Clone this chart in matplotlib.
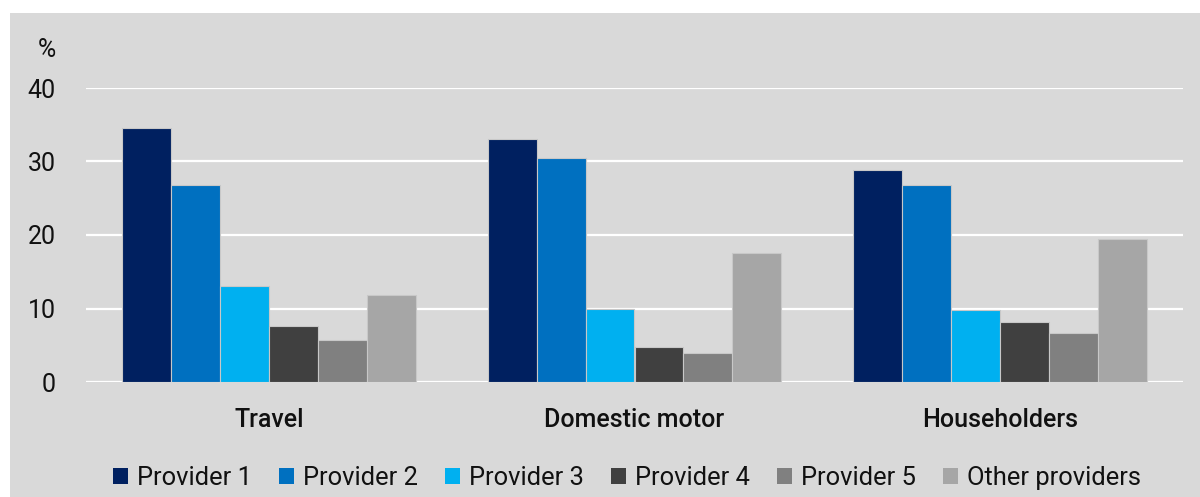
import numpy as np
import matplotlib
matplotlib.use("Agg")
import matplotlib.pyplot as plt
from matplotlib.patches import Rectangle, Patch

###############################################################################
# Data

categories = ["Travel", "Domestic motor", "Householders"]
providers = ["Provider 1", "Provider 2", "Provider 3", "Provider 4", "Provider 5", "Other providers"]
provider_1 = [34.5, 33.1, 28.8]
provider_2 = [26.8, 30.5, 26.8]
provider_3 = [13.0, 10.0, 9.8]
provider_4 = [7.6, 4.7, 8.1]
provider_5 = [5.7, 4.0, 6.7]
other_providers = [11.9, 17.5, 19.5]
yticks = [0, 10, 20, 30, 40]

series = [provider_1, provider_2, provider_3, provider_4, provider_5, other_providers]
colors = ["#002060", "#0070C0", "#00B0F0", "#404040", "#808080", "#A6A6A6"]
bg = "#D9D9D9"

plt.rcParams['font.family'] = ['Roboto', 'DejaVu Sans']

###############################################################################
# Plot

fig = plt.figure(figsize=(12, 4.97), dpi=100, facecolor="white")
# grey panel with a thin white margin at top and left
fig.patches.append(Rectangle((10 / 1200, 0), 1, (497 - 13) / 497,
                             transform=fig.transFigure, facecolor=bg,
                             edgecolor="none", zorder=-5))

ax = fig.add_axes([86 / 1200, 115 / 497, (1183 - 86) / 1200, (409 - 115) / 497])
ax.set_zorder(2)
ax.set_facecolor(bg)

x = np.arange(len(categories))
slot = 0.134
for i, (vals, col) in enumerate(zip(series, colors)):
    offs = (i - (len(series) - 1) / 2) * slot
    ax.bar(x + offs, vals, width=slot, color=col, edgecolor="#c8c8c8",
           linewidth=0.8, zorder=3)

ax.set_xlim(-0.5, 2.5)
ax.set_ylim(0, 40)
ax.set_yticks(yticks)
ax.yaxis.grid(True, color="white", linewidth=1.6, zorder=0)
ax.set_axisbelow(True)
for s in ax.spines.values():
    s.set_visible(False)

ax.set_xticks(x)
ax.set_xticklabels(categories, fontsize=18, fontweight="medium", color="#111111")
ax.tick_params(axis="x", length=0, pad=19)
ax.tick_params(axis="y", length=0, pad=22, labelsize=18, labelcolor="#111111")

fig.text(47 / 1200, 1 - 50 / 497, "%", fontsize=18, ha="center", va="center",
         color="#111111")

handles = [Patch(facecolor=c, edgecolor="none") for c in colors]
fig.legend(handles, providers, loc="center", ncol=6,
           bbox_to_anchor=(627 / 1200, 1 - 478 / 497), frameon=False,
           fontsize=18.4, handlelength=0.6, handleheight=0.6,
           handletextpad=0.35, columnspacing=1.05, labelcolor="#111111")

fig.savefig("out.png", dpi=100, facecolor=fig.get_facecolor())
